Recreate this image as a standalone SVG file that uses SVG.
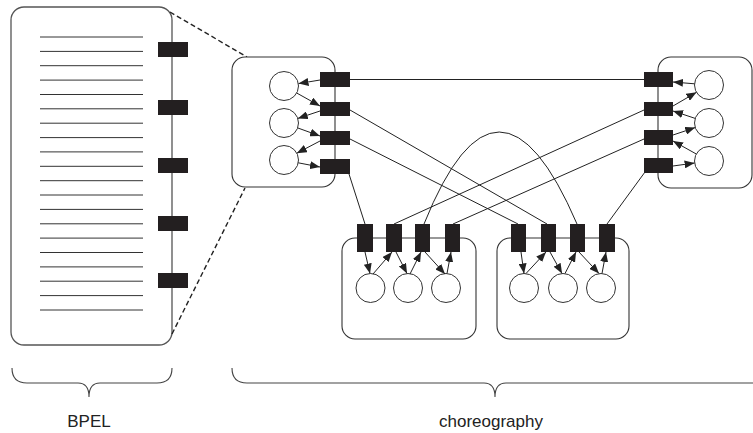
<svg xmlns="http://www.w3.org/2000/svg" width="753" height="433" viewBox="0 0 753 433">
  <style>
    .box { fill: #fff; stroke: #333; stroke-width: 1.1; }
    .bpel { fill: #fff; stroke: #555; stroke-width: 1.3; }
    .row { stroke: #333; stroke-width: 1; }
    .port { fill: #231f20; }
    .svc { fill: #fff; stroke: #333; stroke-width: 1; }
    .conn { fill: none; stroke: #222; stroke-width: 1; }
    .arr { fill: none; stroke: #222; stroke-width: 1; marker-end: url(#head); }
    .zoom { fill: none; stroke: #222; stroke-width: 1.4; stroke-dasharray: 5 3; }
    .brace { fill: none; stroke: #444; stroke-width: 1.1; }
    .lbl { font-family: "Liberation Sans", Arial, sans-serif; font-size: 17px; fill: #222; text-anchor: middle; }
  </style>
  <defs>
    <marker id="head" markerUnits="userSpaceOnUse" markerWidth="10" markerHeight="8" viewBox="0 0 10 8" refX="10" refY="4" orient="auto">
      <path d="M0,0 L10,4 L0,8 Z" fill="#222"/>
    </marker>
  </defs>

  <!-- BPEL process: a listing with its ports -->
  <g id="bpel">
    <rect class="bpel" x="11" y="7" width="161" height="338" rx="13"/>
    <g class="row">
      <line x1="40" y1="37" x2="143" y2="37"/>
      <line x1="40" y1="51.4" x2="143" y2="51.4"/>
      <line x1="40" y1="65.7" x2="143" y2="65.7"/>
      <line x1="40" y1="80.1" x2="143" y2="80.1"/>
      <line x1="40" y1="94.5" x2="143" y2="94.5"/>
      <line x1="40" y1="108.8" x2="143" y2="108.8"/>
      <line x1="40" y1="123.2" x2="143" y2="123.2"/>
      <line x1="40" y1="137.6" x2="143" y2="137.6"/>
      <line x1="40" y1="151.9" x2="143" y2="151.9"/>
      <line x1="40" y1="166.3" x2="143" y2="166.3"/>
      <line x1="40" y1="180.7" x2="143" y2="180.7"/>
      <line x1="40" y1="195" x2="143" y2="195"/>
      <line x1="40" y1="209.4" x2="143" y2="209.4"/>
      <line x1="40" y1="223.8" x2="143" y2="223.8"/>
      <line x1="40" y1="238.1" x2="143" y2="238.1"/>
      <line x1="40" y1="252.5" x2="143" y2="252.5"/>
      <line x1="40" y1="266.9" x2="143" y2="266.9"/>
      <line x1="40" y1="281.2" x2="143" y2="281.2"/>
      <line x1="40" y1="295.6" x2="143" y2="295.6"/>
      <line x1="40" y1="310" x2="143" y2="310"/>
    </g>
    <rect class="port" x="158" y="42" width="30" height="15"/>
    <rect class="port" x="158" y="100" width="30" height="15"/>
    <rect class="port" x="158" y="158" width="30" height="15"/>
    <rect class="port" x="158" y="216" width="30" height="15"/>
    <rect class="port" x="158" y="273" width="30" height="15"/>
  </g>

  <!-- zoom guides from the BPEL listing to its service -->
  <g id="zoom-guides">
    <line class="zoom" x1="170" y1="12" x2="247" y2="57"/>
    <line class="zoom" x1="172" y1="334" x2="245" y2="188"/>
  </g>

  <!-- service containers -->
  <g id="service-a">
    <rect class="box" x="232" y="57" width="103" height="130" rx="13"/>
  </g>
  <g id="service-b">
    <rect class="box" x="658" y="57" width="94" height="131" rx="13"/>
  </g>
  <g id="service-c">
    <rect class="box" x="342" y="238" width="134" height="101" rx="13"/>
  </g>
  <g id="service-d">
    <rect class="box" x="497" y="238" width="132" height="101" rx="13"/>
  </g>

  <!-- links between service ports -->
  <g id="connectors">
    <line class="conn" x1="350" y1="79.5" x2="644" y2="79.5"/>
    <line class="conn" x1="350" y1="110" x2="547" y2="224"/>
    <line class="conn" x1="350" y1="139" x2="518" y2="224"/>
    <line class="conn" x1="349" y1="174" x2="365" y2="224"/>
    <line class="conn" x1="394" y1="224" x2="644" y2="110"/>
    <line class="conn" x1="453" y1="224" x2="644" y2="139"/>
    <path class="conn" d="M424,224 Q498,40 577,224"/>
    <line class="conn" x1="607" y1="224" x2="645" y2="172"/>
  </g>

  <!-- service A internals -->
  <g id="service-a-parts">
    <rect class="port" x="320" y="72" width="30" height="15"/>
    <rect class="port" x="320" y="102" width="30" height="14"/>
    <rect class="port" x="320" y="131" width="30" height="14"/>
    <rect class="port" x="320" y="159" width="30" height="15"/>
    <circle class="svc" cx="284" cy="86" r="14.5"/>
    <circle class="svc" cx="284" cy="123" r="14.5"/>
    <circle class="svc" cx="284" cy="160" r="14.5"/>
    <line class="arr" x1="320" y1="80" x2="298.5" y2="83.6"/>
    <line class="arr" x1="296.7" y1="93" x2="320" y2="106"/>
    <line class="arr" x1="320" y1="111" x2="297.8" y2="118.4"/>
    <line class="arr" x1="297.6" y1="127.9" x2="320" y2="136"/>
    <line class="arr" x1="320" y1="141" x2="296.8" y2="153.2"/>
    <line class="arr" x1="298.2" y1="162.8" x2="320" y2="167"/>
  </g>

  <!-- service B internals -->
  <g id="service-b-parts">
    <rect class="port" x="644" y="72" width="29" height="15"/>
    <rect class="port" x="644" y="102" width="29" height="14"/>
    <rect class="port" x="644" y="130" width="29" height="15"/>
    <rect class="port" x="644" y="158" width="29" height="15"/>
    <circle class="svc" cx="709" cy="85" r="14.5"/>
    <circle class="svc" cx="709" cy="123" r="14.5"/>
    <circle class="svc" cx="709" cy="161" r="14.5"/>
    <line class="arr" x1="694.5" y1="83.8" x2="673" y2="82"/>
    <line class="arr" x1="673" y1="106" x2="696.5" y2="92.3"/>
    <line class="arr" x1="695.2" y1="118.4" x2="673" y2="111"/>
    <line class="arr" x1="673" y1="135" x2="695.2" y2="127.6"/>
    <line class="arr" x1="696.3" y1="154" x2="673" y2="141"/>
    <line class="arr" x1="673" y1="166" x2="694.6" y2="163"/>
  </g>

  <!-- service C internals -->
  <g id="service-c-parts">
    <rect class="port" x="357" y="224" width="16" height="28"/>
    <rect class="port" x="386" y="224" width="16" height="28"/>
    <rect class="port" x="415" y="224" width="15" height="28"/>
    <rect class="port" x="445" y="224" width="15" height="28"/>
    <circle class="svc" cx="370.5" cy="288" r="14.5"/>
    <circle class="svc" cx="408" cy="288" r="14.5"/>
    <circle class="svc" cx="446" cy="288" r="14.5"/>
    <line class="arr" x1="365" y1="252" x2="370" y2="273.5"/>
    <line class="arr" x1="373" y1="274" x2="392" y2="252"/>
    <line class="arr" x1="396" y1="252" x2="407" y2="273.5"/>
    <line class="arr" x1="410" y1="274" x2="421" y2="252"/>
    <line class="arr" x1="425" y1="252" x2="445" y2="274"/>
    <line class="arr" x1="447" y1="273.5" x2="451" y2="252"/>
  </g>

  <!-- service D internals -->
  <g id="service-d-parts">
    <rect class="port" x="511" y="224" width="15" height="28"/>
    <rect class="port" x="541" y="224" width="15" height="28"/>
    <rect class="port" x="570" y="224" width="15" height="28"/>
    <rect class="port" x="599" y="224" width="16" height="28"/>
    <circle class="svc" cx="524" cy="288" r="14.5"/>
    <circle class="svc" cx="563" cy="288" r="14.5"/>
    <circle class="svc" cx="601" cy="288" r="14.5"/>
    <line class="arr" x1="521" y1="252" x2="524" y2="273.5"/>
    <line class="arr" x1="526" y1="273.5" x2="546" y2="252"/>
    <line class="arr" x1="550" y1="252" x2="562" y2="273.5"/>
    <line class="arr" x1="565" y1="273.5" x2="576" y2="252"/>
    <line class="arr" x1="579" y1="252" x2="599" y2="273.5"/>
    <line class="arr" x1="602" y1="273.5" x2="606" y2="252"/>
  </g>

  <!-- braces and captions -->
  <g id="bpel-label">
    <path class="brace" d="M12,368 Q12,383 27,383 L78,383 Q89,383 89,397 Q89,383 100,383 L157,383 Q172,383 172,368"/>
    <text class="lbl" x="89" y="427">BPEL</text>
  </g>
  <g id="choreography-label">
    <path class="brace" d="M232,368 Q232,383 247,383 L484,383 Q495,383 495,397 Q495,383 506,383 L760,383"/>
    <text class="lbl" x="491" y="427">choreography</text>
  </g>
</svg>
